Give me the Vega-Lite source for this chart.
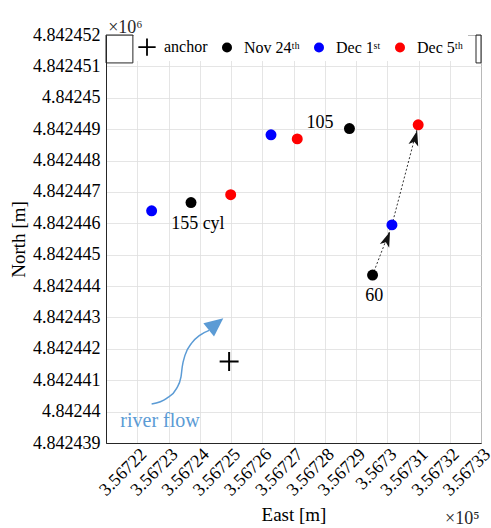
{
  "$schema": "https://vega.github.io/schema/vega-lite/v6.json",
  "width": 375,
  "height": 408,
  "autosize": {"type": "none"},
  "padding": {"left": 106, "top": 35, "right": 10, "bottom": 85},
  "config": {
    "font": "Liberation Serif",
    "view": {"stroke": "#262626", "strokeWidth": 1},
    "legend": {
      "orient": "none",
      "legendX": 28,
      "legendY": -1,
      "direction": "horizontal",
      "fillColor": "white",
      "padding": 5,
      "labelFont": "Liberation Serif",
      "labelFontSize": 16,
      "labelColor": "black",
      "symbolSize": 100,
      "labelOffset": 9,
      "columnPadding": 11,
      "labelLimit": 200,
      "symbolStrokeWidth": 0
    }
  },
  "datasets": {
    "pts": [
      {"x": 356724.94, "y": 4842441.6, "s": "anchor"},
      {"x": 356723.72, "y": 4842446.66, "s": "Nov 24ᵗʰ"},
      {"x": 356728.79, "y": 4842449.02, "s": "Nov 24ᵗʰ"},
      {"x": 356729.53, "y": 4842444.35, "s": "Nov 24ᵗʰ"},
      {"x": 356722.46, "y": 4842446.4, "s": "Dec 1ˢᵗ"},
      {"x": 356726.28, "y": 4842448.82, "s": "Dec 1ˢᵗ"},
      {"x": 356730.15, "y": 4842445.95, "s": "Dec 1ˢᵗ"},
      {"x": 356724.99, "y": 4842446.91, "s": "Dec 5ᵗʰ"},
      {"x": 356727.12, "y": 4842448.69, "s": "Dec 5ᵗʰ"},
      {"x": 356730.99, "y": 4842449.14, "s": "Dec 5ᵗʰ"}
    ],
    "segs": [
      {"x": 356729.53, "y": 4842444.35, "x2": 356730.15, "y2": 4842445.95},
      {"x": 356730.15, "y": 4842445.95, "x2": 356730.99, "y2": 4842449.14}
    ],
    "heads": [
      {"x": 356729.99, "y": 4842445.48, "a": 21.4},
      {"x": 356730.89, "y": 4842448.69, "a": 14.6}
    ],
    "river": [
      {"i": 0, "x": 356722.46, "y": 4842440.24},
      {"i": 1, "x": 356722.94, "y": 4842440.42},
      {"i": 2, "x": 356723.26, "y": 4842440.74},
      {"i": 3, "x": 356723.40, "y": 4842441.11},
      {"i": 4, "x": 356723.44, "y": 4842441.43},
      {"i": 5, "x": 356723.53, "y": 4842441.80},
      {"i": 6, "x": 356723.74, "y": 4842442.18},
      {"i": 7, "x": 356724.01, "y": 4842442.44},
      {"i": 8, "x": 356724.30, "y": 4842442.59}
    ],
    "riverhead": [
      {"x": 356724.52, "y": 4842442.79, "a": 51.3}
    ],
    "labels": [
      {"x": 356723.94, "y": 4842445.98, "t": "155 cyl"},
      {"x": 356727.85, "y": 4842449.2, "t": "105"},
      {"x": 356729.58, "y": 4842443.68, "t": "60"}
    ],
    "rivertext": [
      {"x": 356722.73, "y": 4842439.7, "t": "river flow"}
    ],
    "mult": [
      {"x": 356721.62, "y": 4842452.07, "t": "×10⁶"},
      {"x": 356732.4, "y": 4842436.42, "t": "×10⁵"}
    ],
    "boxes": [
      {"x": 356721, "x2": 356721.86, "y": 4842452, "y2": 4842451.11},
      {"x": 356732.84, "x2": 356733, "y": 4842452, "y2": 4842451.11}
    ]
  },
  "encoding": {
    "x": {
      "field": "x",
      "type": "quantitative",
      "scale": {"domain": [356721, 356733], "nice": false, "zero": false},
      "axis": {
        "title": "East [m]",
        "values": [356722, 356723, 356724, 356725, 356726, 356727, 356728, 356729, 356730, 356731, 356732, 356733],
        "labelExpr": "format(datum.value/100000, '.5~f')",
        "labelAngle": -45,
        "labelAlign": "right",
        "labelBaseline": "top",
        "labelPadding": 2,
        "labelFontSize": 18,
        "labelColor": "black",
        "labelFlush": false,
        "labelOverlap": false,
        "titleFontSize": 19,
        "titleColor": "black",
        "titleFontWeight": "normal",
        "titlePadding": 6,
        "ticks": false,
        "tickSize": 0,
        "grid": true,
        "gridColor": "#dedede",
        "gridWidth": 0.8,
        "domainColor": "#262626"
      }
    },
    "y": {
      "field": "y",
      "type": "quantitative",
      "scale": {"domain": [4842439, 4842452], "nice": false, "zero": false},
      "axis": {
        "title": "North [m]",
        "values": [4842439, 4842440, 4842441, 4842442, 4842443, 4842444, 4842445, 4842446, 4842447, 4842448, 4842449, 4842450, 4842451, 4842452],
        "labelExpr": "format(datum.value/1000000, '.6~f')",
        "labelPadding": 6,
        "labelFontSize": 18,
        "labelColor": "black",
        "labelFlush": false,
        "labelOverlap": false,
        "titleFontSize": 19,
        "titleColor": "black",
        "titleFontWeight": "normal",
        "titlePadding": 4,
        "ticks": false,
        "tickSize": 0,
        "grid": true,
        "gridColor": "#dedede",
        "gridWidth": 0.8,
        "domainColor": "#262626"
      }
    }
  },
  "layer": [
    {
      "data": {"name": "boxes"},
      "mark": {"type": "rect", "filled": false, "color": "#262626", "strokeWidth": 1, "cornerRadius": 0},
      "encoding": {"x2": {"field": "x2"}, "y2": {"field": "y2"}}
    },
    {
      "data": {"name": "segs"},
      "mark": {"type": "rule", "strokeDash": [2, 2], "color": "#333333", "strokeWidth": 1},
      "encoding": {"x2": {"field": "x2"}, "y2": {"field": "y2"}}
    },
    {
      "data": {"name": "river"},
      "mark": {"type": "line", "color": "#5b9bd5", "strokeWidth": 1.5, "interpolate": "monotone"},
      "encoding": {"order": {"field": "i", "type": "quantitative"}}
    },
    {
      "data": {"name": "riverhead"},
      "mark": {"type": "point", "shape": "M0,-1L0.91,1L-0.91,1Z", "filled": true, "color": "#5b9bd5", "opacity": 1, "size": 350},
      "encoding": {"angle": {"field": "a", "type": "quantitative", "scale": null}}
    },
    {
      "data": {"name": "pts"},
      "mark": {"type": "point", "filled": true, "opacity": 1, "size": 120},
      "encoding": {
        "color": {
          "field": "s",
          "type": "nominal",
          "scale": {"domain": ["anchor", "Nov 24ᵗʰ", "Dec 1ˢᵗ", "Dec 5ᵗʰ"], "range": ["black", "black", "blue", "red"]},
          "legend": {"title": null, "labelFont": "Liberation Serif", "labelFontSize": 16}
        },
        "shape": {
          "field": "s",
          "type": "nominal",
          "scale": {"domain": ["anchor", "Nov 24ᵗʰ", "Dec 1ˢᵗ", "Dec 5ᵗʰ"], "range": ["M-1.73,-0.18H1.73V0.18H-1.73ZM-0.18,-1.73H0.18V1.73H-0.18Z", "circle", "circle", "circle"]},
          "legend": {"title": null, "labelFont": "Liberation Serif", "labelFontSize": 16}
        }
      }
    },
    {
      "data": {"name": "heads"},
      "mark": {"type": "point", "shape": "M0,-1L0.6,0.8L0,0.35L-0.6,0.8Z", "filled": true, "color": "#111111", "opacity": 1, "size": 278},
      "encoding": {"angle": {"field": "a", "type": "quantitative", "scale": null}}
    },
    {
      "data": {"name": "labels"},
      "mark": {"type": "text", "fontSize": 18, "color": "black", "align": "center", "baseline": "middle"},
      "encoding": {"text": {"field": "t"}}
    },
    {
      "data": {"name": "rivertext"},
      "mark": {"type": "text", "fontSize": 20, "color": "#5b9bd5", "align": "center", "baseline": "middle"},
      "encoding": {"text": {"field": "t"}}
    },
    {
      "data": {"name": "mult"},
      "mark": {"type": "text", "fontSize": 18, "color": "#262626", "align": "center", "baseline": "alphabetic"},
      "encoding": {"text": {"field": "t"}}
    }
  ]
}
